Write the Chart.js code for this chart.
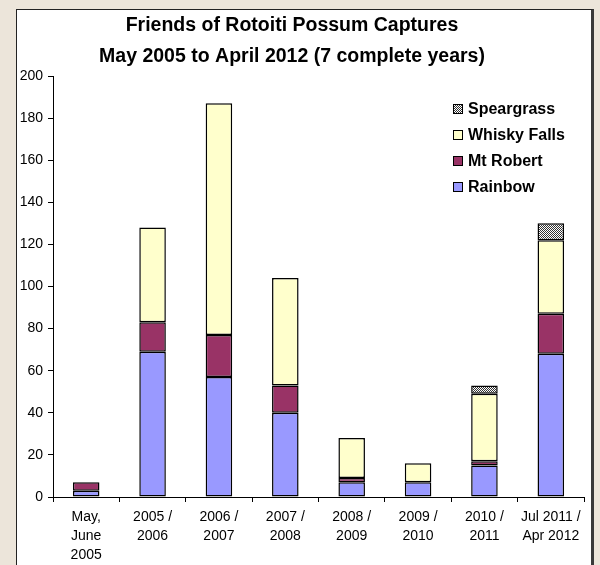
<!DOCTYPE html>
<html>
<head>
<meta charset="utf-8">
<script src="https://cdn.jsdelivr.net/npm/chart.js@4"></script>
<style>
  body { margin: 0; background: #ece5da; width: 600px; height: 565px; overflow: hidden; position: relative; }
  #panel { position: absolute; left: 16px; top: 9px; width: 574px; height: 600px; background: #fff;
           border-left: 1px solid #222; border-top: 1px solid #222; border-right: 3px solid #3a3a3a; }
  #myChart { position: absolute; left: 0; top: 0; }
</style>
</head>
<body>
<div id="panel"></div>
<canvas id="myChart" width="588" height="565"></canvas>
<script>
// seasons along the bottom
var seasons = [
  ["May,", "June", "2005"],
  ["2005 /", "2006"],
  ["2006 /", "2007"],
  ["2007 /", "2008"],
  ["2008 /", "2009"],
  ["2009 /", "2010"],
  ["2010 /", "2011"],
  ["Jul 2011 /", "Apr 2012"]
];

// captures per trap line
var rainbow     = [3, 69, 57, 40, 7, 7, 15, 68];
var mtRobert    = [4, 14, 20, 13, 2, 0, 2, 19];
var whiskyFalls = [0, 45, 110, 51, 19, 9, 32, 35];
var speargrass  = [0, 0, 0, 0, 0, 0, 4, 8];

var yTicks = [0, 20, 40, 60, 80, 100, 120, 140, 160, 180, 200];

var fontFam = "Arial, 'Liberation Sans', sans-serif";

// little dither pattern for Speargrass
var pc = document.createElement("canvas");
pc.width = 2; pc.height = 2;
var px = pc.getContext("2d");
px.fillStyle = "#ffffff";
px.fillRect(0, 0, 2, 2);
px.fillStyle = "#333333";
px.fillRect(0, 0, 1, 1);
px.fillRect(1, 1, 1, 1);
var dotPattern = px.createPattern(pc, "repeat");

// legend drawn inside the plot, top right, top item = last dataset
var boxLegend = {
  id: "boxLegend",
  afterDraw: function(chart) {
    var ctx = chart.ctx;
    var sets = chart.data.datasets;
    ctx.save();
    ctx.font = "bold 16px " + fontFam;
    ctx.textBaseline = "middle";
    ctx.textAlign = "left";
    for (var i = 0; i < sets.length; i++) {
      var row = sets.length - 1 - i;
      var y = 109 + row * 26;
      ctx.fillStyle = sets[i].backgroundColor;
      ctx.fillRect(453, y - 5, 10, 10);
      ctx.strokeStyle = "#000";
      ctx.lineWidth = 1;
      ctx.strokeRect(453.5, y - 4.5, 9, 9);
      ctx.fillStyle = "#000";
      ctx.fillText(sets[i].label, 468, y + 1);
    }
    ctx.restore();
  }
};

var ctxEl = document.getElementById("myChart");

var captureChart = new Chart(ctxEl, {
  type: "bar",
  data: {
    labels: seasons,
    datasets: [
      { label: "Rainbow", data: rainbow, backgroundColor: "#9999ff" },
      { label: "Mt Robert", data: mtRobert, backgroundColor: "#993366" },
      { label: "Whisky Falls", data: whiskyFalls, backgroundColor: "#ffffcc" },
      { label: "Speargrass", data: speargrass, backgroundColor: dotPattern }
    ]
  },
  options: {
    responsive: false,
    animation: false,
    devicePixelRatio: 1,
    layout: { padding: { left: 0, right: 4, top: 0, bottom: 0 } },
    datasets: {
      bar: {
        borderColor: "#000",
        borderWidth: 1.5,
        borderSkipped: false,
        barPercentage: 0.4,
        categoryPercentage: 1.0
      }
    },
    plugins: {
      legend: { display: false },
      tooltip: { enabled: false },
      title: {
        display: true,
        text: ["Friends of Rotoiti Possum Captures", "May 2005 to April 2012 (7 complete years)"],
        color: "#000",
        font: { family: fontFam, size: 19.5, weight: "bold", lineHeight: 1.59 },
        padding: { top: 10, bottom: 4 }
      }
    },
    scales: {
      x: {
        stacked: true,
        grid: { display: true, drawOnChartArea: false, drawTicks: true, tickLength: 5, color: "#000" },
        border: { color: "#000", width: 1 },
        ticks: {
          color: "#000",
          padding: 6,
          maxRotation: 0,
          autoSkip: false,
          font: { family: fontFam, size: 14, lineHeight: 1.36 }
        },
        afterFit: function(scale) { scale.height = 68; }
      },
      y: {
        stacked: true,
        min: 0,
        max: 200,
        afterBuildTicks: function(scale) {
          scale.ticks = yTicks.map(function(v) { return { value: v }; });
        },
        grid: { display: true, drawOnChartArea: false, drawTicks: true, tickLength: 5, color: "#000" },
        border: { color: "#000", width: 1 },
        ticks: {
          color: "#000",
          padding: 5,
          font: { family: fontFam, size: 14 }
        },
        afterFit: function(scale) { scale.width = 53; }
      }
    }
  },
  plugins: [boxLegend]
});
</script>
</body>
</html>
